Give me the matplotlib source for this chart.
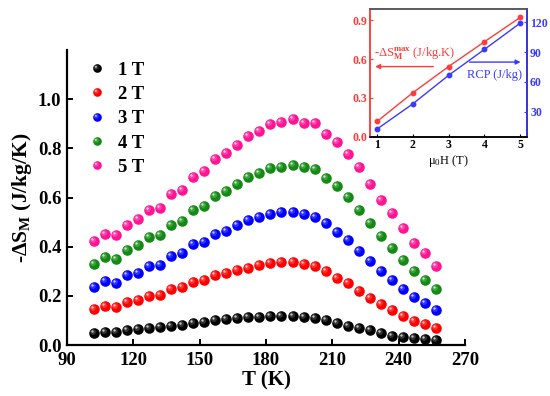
import numpy as np
import matplotlib
matplotlib.use("Agg")
import matplotlib.pyplot as plt
from matplotlib.path import Path
from matplotlib.legend_handler import HandlerTuple

plt.rcParams['font.family'] = ['Liberation Serif', 'DejaVu Serif']
plt.rcParams['mathtext.fontset'] = 'custom'
plt.rcParams['mathtext.rm'] = 'Liberation Serif:bold'
plt.rcParams['mathtext.bf'] = 'Liberation Serif:bold'
plt.rcParams['mathtext.it'] = 'Liberation Serif:bold'

# ---------------- data ----------------
T = [102, 107, 112, 117, 122, 127, 132, 137, 142, 147, 152, 157, 162, 167, 172, 177,
     182, 187, 192, 197, 202, 207, 212, 217, 222, 227, 232, 237, 242, 247, 252, 257]

s1T = [0.047, 0.054, 0.054, 0.061, 0.064, 0.068, 0.072, 0.077, 0.081, 0.088, 0.093, 0.101,
       0.104, 0.109, 0.112, 0.115, 0.118, 0.119, 0.119, 0.115, 0.108, 0.101, 0.091, 0.078,
       0.068, 0.061, 0.047, 0.038, 0.031, 0.027, 0.023, 0.020]
s2T = [0.145, 0.158, 0.153, 0.176, 0.182, 0.199, 0.203, 0.226, 0.234, 0.257, 0.263, 0.284,
       0.291, 0.307, 0.315, 0.324, 0.334, 0.338, 0.338, 0.331, 0.320, 0.301, 0.274, 0.254,
       0.220, 0.193, 0.166, 0.142, 0.119, 0.099, 0.084, 0.068]
s3T = [0.236, 0.261, 0.253, 0.284, 0.293, 0.320, 0.324, 0.361, 0.374, 0.409, 0.419, 0.453,
       0.463, 0.490, 0.507, 0.520, 0.534, 0.540, 0.543, 0.534, 0.520, 0.496, 0.459, 0.428,
       0.382, 0.342, 0.301, 0.263, 0.226, 0.196, 0.169, 0.142]
s4T = [0.331, 0.358, 0.349, 0.388, 0.405, 0.439, 0.446, 0.490, 0.504, 0.550, 0.567, 0.608,
       0.626, 0.655, 0.682, 0.699, 0.720, 0.726, 0.732, 0.723, 0.716, 0.680, 0.645, 0.604,
       0.551, 0.497, 0.443, 0.396, 0.345, 0.300, 0.266, 0.226]
s5T = [0.422, 0.453, 0.446, 0.490, 0.511, 0.551, 0.558, 0.615, 0.631, 0.685, 0.709, 0.757,
       0.780, 0.815, 0.849, 0.872, 0.899, 0.908, 0.919, 0.903, 0.905, 0.858, 0.827, 0.777,
       0.723, 0.655, 0.588, 0.536, 0.477, 0.415, 0.376, 0.321]

series_labels = ['1 T', '2 T', '3 T', '4 T', '5 T']
series_colors = ['#000000', '#ff0000', '#0000ff', '#138a13', '#ff1493']
series_values = [s1T, s2T, s3T, s4T, s5T]

field = [1, 2, 3, 4, 5]
dSmax = [0.118, 0.340, 0.542, 0.733, 0.921]
rcp = [12.4, 37.8, 66.6, 92.7, 119.2]

xticks_main = [90, 120, 150, 180, 210, 240, 270]
yticks_main = [0.0, 0.2, 0.4, 0.6, 0.8, 1.0]

# --------------- sphere-like markers ---------------
def offset_marker(cx, cy, r):
    p = Path.circle((cx, cy), r)
    rescale = np.max(np.abs(p.vertices))
    return p, rescale

hl1_path, hl1_scale = offset_marker(-0.28, 0.28, 0.55)
hl2_path, hl2_scale = offset_marker(-0.38, 0.38, 0.22)

def lighten(c, f):
    rgb = np.array(matplotlib.colors.to_rgb(c))
    return tuple(rgb + (1 - rgb) * f)

def sphere(ax, x, y, color, ms, zorder=3):
    h0, = ax.plot(x, y, 'o', color=color, ms=ms, mew=0, ls='none', zorder=zorder)
    h1, = ax.plot(x, y, marker=hl1_path, color=lighten(color, 0.25), ms=ms * hl1_scale,
                  mew=0, ls='none', zorder=zorder + 0.1, alpha=0.8)
    h2, = ax.plot(x, y, marker=hl2_path, color=lighten(color, 0.85), ms=ms * hl2_scale,
                  mew=0, ls='none', zorder=zorder + 0.2, alpha=0.9)
    return (h0, h1, h2)

# --------------- figure ---------------
fig = plt.figure(figsize=(5.5, 3.96), dpi=100)
ax = fig.add_axes([67 / 550, 1 - 345 / 396, (465 - 67) / 550, (345 - 50) / 396])

for vals, col in zip(series_values, series_colors):
    sphere(ax, T, vals, col, 7.6)

ax.set_xlim(90, 270)
ax.set_ylim(0, 1.2)
ax.set_xticks(xticks_main)
ax.set_yticks(yticks_main)
ax.set_yticklabels([f'{v:.1f}' for v in yticks_main])
for s in ['top', 'right']:
    ax.spines[s].set_visible(False)
for s in ['left', 'bottom']:
    ax.spines[s].set_linewidth(1.6)
ax.tick_params(direction='in', length=4, width=1.4, labelsize=13.5)
ax.tick_params(axis='x', pad=5)
ax.tick_params(axis='y', pad=4)
for lab in ax.get_xticklabels() + ax.get_yticklabels():
    lab.set_fontweight('bold')
ax.set_xlabel('T (K)', fontsize=15, fontweight='bold', labelpad=1)
ax.set_ylabel(r'-ΔS$_\mathrm{M}$ (J/kg/K)', fontsize=15.5, fontweight='bold', labelpad=3)

# legend
handles = []
for col in series_colors:
    handles.append(sphere(ax, [], [], col, 6.2))
leg = ax.legend(handles, series_labels, handler_map={tuple: HandlerTuple(ndivide=1, pad=0)},
                loc='upper left', bbox_to_anchor=(0.02, 1.005), frameon=False,
                prop={'family': 'Liberation Serif', 'weight': 'bold', 'size': 13.5},
                handlelength=1.0, handletextpad=0.6, labelspacing=0.38, borderaxespad=0.3)

# --------------- inset ---------------
red_c = '#ff3b3b'
blue_c = '#3a3aff'
ins = fig.add_axes([370 / 550, 1 - 136.7 / 396, (527.3 - 370) / 550, (136.7 - 8.5) / 396])
ins.plot(field, dSmax, '-o', color=red_c, ms=3.2, lw=1.0)
ins.set_xlim(0.8, 5.2)
ins.set_ylim(0, 0.99)
ins.set_xticks(field)
ins.set_yticks([0.0, 0.3, 0.6, 0.9])
ins.set_yticklabels(['0.0', '0.3', '0.6', '0.9'])
ins.tick_params(axis='y', colors=red_c, direction='in', length=2.5, labelsize=8.5, pad=2)
ins.tick_params(axis='x', direction='in', length=2.5, labelsize=8.5, pad=2)
for lab in ins.get_xticklabels() + ins.get_yticklabels():
    lab.set_fontweight('bold')
ins.spines['left'].set_color(red_c)
ins.spines['top'].set_color('#555555')
for s in ins.spines.values():
    s.set_linewidth(1.1)
ins.set_xlabel(r'$\mathregular{\mu_0}$H (T)', fontsize=9, labelpad=1)

ins2 = ins.twinx()
ins2.plot(field, rcp, '-o', color=blue_c, ms=3.2, lw=1.0)
ins2.set_ylim(4.6, 134)
ins2.set_yticks([30, 60, 90, 120])
ins2.tick_params(axis='y', colors=blue_c, direction='in', length=2.5, labelsize=8.5, pad=2)
for lab in ins2.get_yticklabels():
    lab.set_fontweight('bold')
ins2.spines['right'].set_color(blue_c)
ins2.spines['left'].set_color(red_c)
ins2.spines['top'].set_color('#555555')
for s in ins2.spines.values():
    s.set_linewidth(1.1)

# arrows and labels (axes fraction coordinates)
ins.annotate('', xy=(0.015, 0.547), xytext=(0.42, 0.547), xycoords='axes fraction',
             arrowprops=dict(arrowstyle='-|>', color=red_c, lw=1.0, mutation_scale=7))
ins.text(0.025, 0.59, r'-ΔS$_\mathrm{M}^\mathrm{max}$ (J/kg.K)', transform=ins.transAxes,
         color=red_c, fontsize=9, ha='left', va='bottom')
ins.annotate('', xy=(0.975, 0.582), xytext=(0.615, 0.582), xycoords='axes fraction',
             arrowprops=dict(arrowstyle='-|>', color=blue_c, lw=1.0, mutation_scale=7))
ins.text(0.615, 0.525, 'RCP (J/kg)', transform=ins.transAxes,
         color=blue_c, fontsize=9, ha='left', va='top')

fig.savefig('out.png', dpi=100)
